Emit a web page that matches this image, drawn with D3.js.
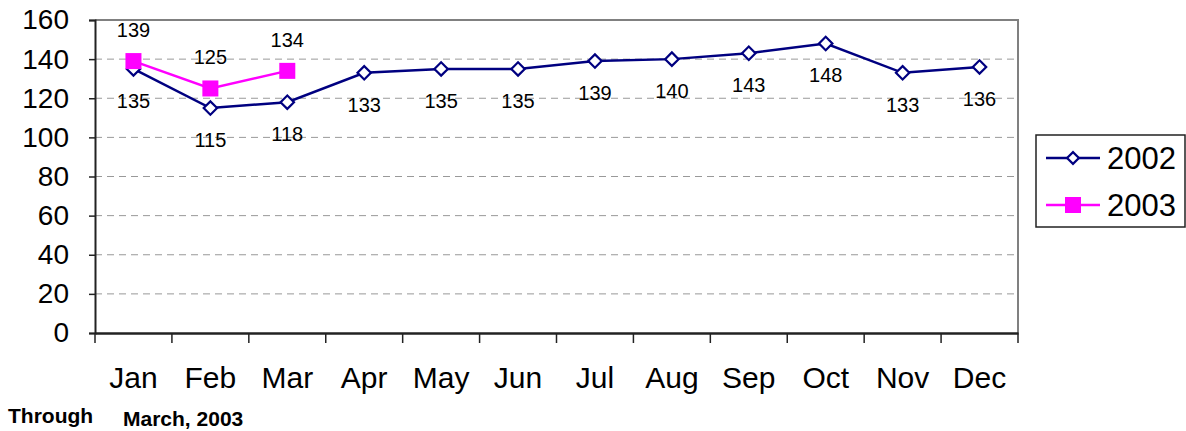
<!DOCTYPE html>
<html>
<head>
<meta charset="UTF-8">
<script src="https://cdn.jsdelivr.net/npm/d3@7/dist/d3.min.js"></script>
<style>
  body { margin: 0; background: #fff; font-family: "Liberation Sans", Arial, sans-serif; }
</style>
</head>
<body>
<div id="chart"></div>
<script>
const months = ["Jan","Feb","Mar","Apr","May","Jun","Jul","Aug","Sep","Oct","Nov","Dec"];
const values2002 = [135,115,118,133,135,135,139,140,143,148,133,136];
const values2003 = [139,125,134];
const yTicks = [0,20,40,60,80,100,120,140,160];

const width = 1186, height = 431;
const plotL = 95, plotR = 1018, plotT = 20, plotB = 333;

const svg = d3.select("#chart").append("svg")
    .attr("width", width).attr("height", height);

const x = d3.scaleBand().domain(months).range([plotL, plotR]);
const y = d3.scaleLinear().domain([0, 160]).range([plotB, plotT]);

// gridlines
svg.append("g").selectAll("line")
    .data(yTicks.filter(d => d > 0 && d < 160))
    .join("line")
    .attr("x1", plotL).attr("x2", plotR)
    .attr("y1", d => y(d)).attr("y2", d => y(d))
    .attr("stroke", "#999").attr("stroke-dasharray", "7,5").attr("stroke-width", 1);

// plot border top / right
svg.append("path")
    .attr("d", `M${plotL},${plotT}H${plotR}V${plotB}`)
    .attr("fill", "none").attr("stroke", "#808080").attr("stroke-width", 2);

// y axis
const yAxis = svg.append("g")
    .attr("transform", `translate(${plotL},0)`)
    .call(d3.axisLeft(y).tickValues(yTicks).tickSize(6).tickPadding(20));
yAxis.select(".domain").attr("stroke", "#222").attr("stroke-width", 2);
yAxis.selectAll(".tick line").attr("stroke", "#222").attr("stroke-width", 1.5);
yAxis.selectAll("text").attr("font-size", 28).attr("fill", "#000")
    .attr("font-family", "Liberation Sans, Arial, sans-serif");

// x axis
const xAxis = svg.append("g")
    .attr("transform", `translate(0,${plotB})`)
    .call(d3.axisBottom(x).tickSize(0).tickPadding(34));
xAxis.select(".domain").attr("stroke", "#222").attr("stroke-width", 2.5);
xAxis.selectAll("text").attr("font-size", 30).attr("fill", "#000")
    .attr("font-family", "Liberation Sans, Arial, sans-serif");
// category separators
xAxis.append("g").selectAll("line")
    .data(months.concat(["end"]))
    .join("line")
    .attr("x1", (d, i) => plotL + i * x.step()).attr("x2", (d, i) => plotL + i * x.step())
    .attr("y1", 0).attr("y2", 10)
    .attr("stroke", "#222").attr("stroke-width", 1.5);

const cx = (d, i) => x(months[i]) + x.bandwidth() / 2;
const line = d3.line().x(cx).y(d => y(d));

// 2002 series
svg.append("path").datum(values2002)
    .attr("d", line).attr("fill", "none")
    .attr("stroke", "#000080").attr("stroke-width", 2.5);
svg.append("g").selectAll("path")
    .data(values2002).join("path")
    .attr("d", d3.symbol(d3.symbolSquare, 90)())
    .attr("transform", (d, i) => `translate(${cx(d, i)},${y(d)}) rotate(45)`)
    .attr("fill", "#fff").attr("stroke", "#000080").attr("stroke-width", 2.2);
svg.append("g").selectAll("text")
    .data(values2002).join("text")
    .attr("x", cx).attr("y", d => y(d) + 39)
    .attr("text-anchor", "middle").attr("font-size", 20)
    .text(d => d);

// 2003 series
svg.append("path").datum(values2003)
    .attr("d", line).attr("fill", "none")
    .attr("stroke", "#FF00FF").attr("stroke-width", 2.5);
svg.append("g").selectAll("rect")
    .data(values2003).join("rect")
    .attr("x", (d, i) => cx(d, i) - 8).attr("y", d => y(d) - 8)
    .attr("width", 16).attr("height", 16)
    .attr("fill", "#FF00FF");
svg.append("g").selectAll("text")
    .data(values2003).join("text")
    .attr("x", cx).attr("y", d => y(d) - 24)
    .attr("text-anchor", "middle").attr("font-size", 20)
    .text(d => d);

// legend
const lg = svg.append("g").attr("transform", "translate(1036,135)");
lg.append("rect").attr("width", 149).attr("height", 92)
    .attr("fill", "#fff").attr("stroke", "#222").attr("stroke-width", 1.5);
const items = [{name: "2002", color: "#000080", y: 23}, {name: "2003", color: "#FF00FF", y: 70}];
items.forEach(it => {
    lg.append("line").attr("x1", 10).attr("x2", 64).attr("y1", it.y).attr("y2", it.y)
        .attr("stroke", it.color).attr("stroke-width", 2.5);
    if (it.name === "2002") {
        lg.append("path").attr("d", d3.symbol(d3.symbolSquare, 70)())
            .attr("transform", `translate(37,${it.y}) rotate(45)`)
            .attr("fill", "#fff").attr("stroke", it.color).attr("stroke-width", 2.2);
    } else {
        lg.append("rect").attr("x", 29).attr("y", it.y - 8).attr("width", 16).attr("height", 16)
            .attr("fill", it.color);
    }
    lg.append("text").attr("x", 71).attr("y", it.y + 11).attr("font-size", 31).text(it.name);
});

// footer
svg.append("text").attr("x", 8).attr("y", 423).attr("font-size", 21).attr("font-weight", "bold").text("Through");
svg.append("text").attr("x", 123).attr("y", 426).attr("font-size", 21).attr("font-weight", "bold").text("March, 2003");
</script>
</body>
</html>
